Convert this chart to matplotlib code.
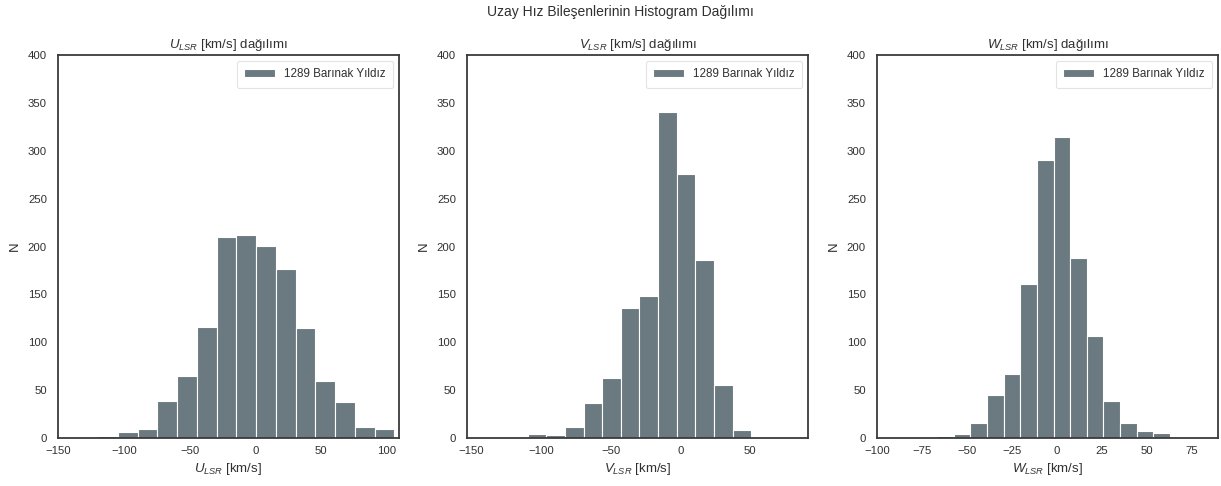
import numpy as np
import matplotlib
matplotlib.use('Agg')
import matplotlib.pyplot as plt

# histogram bin edges and counts
U_EDGES = [-149.5, -134.5, -119.5, -104.5, -89.5, -74.5, -59.5, -44.5, -29.5,
           -14.5, 0.5, 15.5, 30.5, 45.5, 60.5, 75.5, 90.5, 105.5]
U_COUNTS = [0, 0, 2, 6, 9, 39, 65, 116, 210, 212, 201, 176, 115, 60, 38, 12, 9]

V_EDGES = [-149.5, -136.15, -122.8, -109.45, -96.1, -82.75, -69.4, -56.05, -42.7,
           -29.35, -16.0, -2.65, 10.7, 24.05, 37.4, 50.75, 64.1]
V_COUNTS = [0, 0, 1, 4, 3, 12, 37, 63, 136, 148, 340, 276, 186, 55, 8, 1]

W_EDGES = [-94.3, -85.05, -75.8, -66.55, -57.3, -48.05, -38.8, -29.55, -20.3,
           -11.05, -1.8, 7.45, 16.7, 25.95, 35.2, 44.45, 53.7, 62.95, 72.2, 81.45]
W_COUNTS = [0, 0, 0, 2, 4, 16, 45, 67, 161, 290, 314, 188, 107, 39, 16, 7, 5, 1, 1]

COMPONENTS = ["U", "V", "W"]
XLIMS = [(-149.5, 109), (-153, 91.5), (-99.3, 89.7)]
XTICKS = [[-150, -100, -50, 0, 50, 100],
          [-150, -100, -50, 0, 50],
          [-100, -75, -50, -25, 0, 25, 50, 75]]
LEGEND_LABEL = "1289 Barınak Yıldız"
SUPTITLE = "Uzay Hız Bileşenlerinin Histogram Dağılımı"

BAR_COLOR = "#6b7980"
TEXT_COLOR = "#303030"

plt.rcParams['font.family'] = ['Liberation Sans', 'DejaVu Sans']
plt.rcParams['mathtext.fontset'] = 'custom'
plt.rcParams['mathtext.rm'] = 'Liberation Sans'
plt.rcParams['mathtext.it'] = 'Liberation Sans:italic'
plt.rcParams['text.color'] = TEXT_COLOR
plt.rcParams['axes.labelcolor'] = TEXT_COLOR
plt.rcParams['xtick.color'] = TEXT_COLOR
plt.rcParams['ytick.color'] = TEXT_COLOR

fig = plt.figure(figsize=(12.21, 4.86), dpi=100)

lefts = [58 / 1221, 467 / 1221, 877 / 1221]
ax_w = 341 / 1221
ax_b = 1 - 438 / 486
ax_h = 383 / 486

data = [(U_EDGES, U_COUNTS), (V_EDGES, V_COUNTS), (W_EDGES, W_COUNTS)]

for i, comp in enumerate(COMPONENTS):
    ax = fig.add_axes([lefts[i], ax_b, ax_w, ax_h])
    edges, counts = data[i]
    ax.hist(edges[:-1], bins=edges, weights=counts, color=BAR_COLOR,
            edgecolor='white', linewidth=0.8, label=LEGEND_LABEL)

    ax.set_xlim(*XLIMS[i])
    ax.set_ylim(0, 400)
    ax.set_xticks(XTICKS[i])
    ax.set_yticks(np.arange(0, 401, 50))
    ax.tick_params(length=0, labelsize=8.2)
    ax.tick_params(axis='x', pad=6)
    ax.tick_params(axis='y', pad=8)

    for sp in ax.spines.values():
        sp.set_color('#3a3a3a')
        sp.set_linewidth(1.3)

    ax.set_title(rf"${comp}_{{LSR}}$ [km/s] dağılımı", fontsize=9.5, pad=5)
    ax.set_xlabel(rf"${comp}_{{LSR}}$ [km/s]", fontsize=9.5, labelpad=3)
    ax.set_ylabel("N", fontsize=9.5, labelpad=5)

    leg = ax.legend(loc='upper right', fontsize=8.4, frameon=True,
                    handlelength=2.6, borderpad=0.65, fancybox=True)
    leg.get_frame().set_edgecolor('#dddddd')
    leg.get_frame().set_linewidth(0.8)

fig.suptitle(SUPTITLE, x=0.508, y=0.99, fontsize=10)

plt.savefig("out.png", dpi=100)
plt.close()
